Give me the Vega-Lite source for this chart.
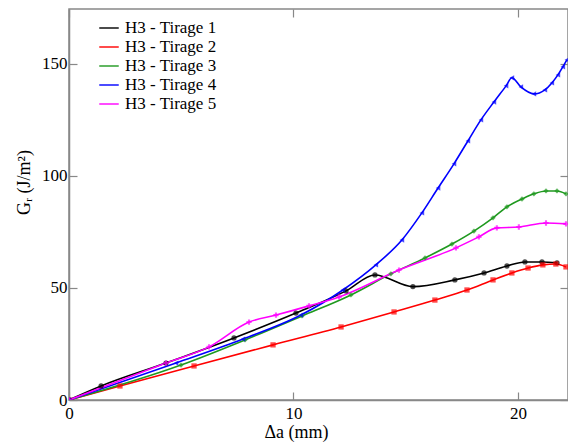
{
  "$schema": "https://vega.github.io/schema/vega-lite/v6.json",
  "width": 499,
  "height": 391,
  "autosize": "none",
  "padding": {"left": 69, "top": 9, "right": 0, "bottom": 43},
  "background": "white",
  "config": {
    "font": "Times New Roman, serif",
    "view": {"stroke": "#888888", "strokeWidth": 1.5},
    "axis": {"grid": false, "domainColor": "#888888", "domainWidth": 1.5, "tickColor": "#888888", "tickWidth": 1.2, "labelColor": "black", "labelFontSize": 17, "titleFontSize": 18, "titleFontWeight": "normal", "titleColor": "black"},
    "legend": {"labelFont": "Times New Roman, serif"}
  },
  "datasets": {
    "curves": [
      {"s": "H3 - Tirage 1", "x": 0, "y": 0},
      {"s": "H3 - Tirage 1", "x": 1.43, "y": 6.25},
      {"s": "H3 - Tirage 1", "x": 4.32, "y": 16.5},
      {"s": "H3 - Tirage 1", "x": 7.35, "y": 27.7},
      {"s": "H3 - Tirage 1", "x": 10.11, "y": 38.8},
      {"s": "H3 - Tirage 1", "x": 12.34, "y": 48.7},
      {"s": "H3 - Tirage 1", "x": 13.63, "y": 55.8},
      {"s": "H3 - Tirage 1", "x": 15.32, "y": 50.6},
      {"s": "H3 - Tirage 1", "x": 17.19, "y": 53.6},
      {"s": "H3 - Tirage 1", "x": 18.49, "y": 56.7},
      {"s": "H3 - Tirage 1", "x": 19.51, "y": 59.8},
      {"s": "H3 - Tirage 1", "x": 20.31, "y": 61.6},
      {"s": "H3 - Tirage 1", "x": 21.07, "y": 61.6},
      {"s": "H3 - Tirage 1", "x": 21.74, "y": 61.2},
      {"s": "H3 - Tirage 2", "x": 0, "y": 0},
      {"s": "H3 - Tirage 2", "x": 2.27, "y": 6.25},
      {"s": "H3 - Tirage 2", "x": 5.57, "y": 15.2},
      {"s": "H3 - Tirage 2", "x": 9.09, "y": 24.6},
      {"s": "H3 - Tirage 2", "x": 12.12, "y": 32.6},
      {"s": "H3 - Tirage 2", "x": 14.48, "y": 39.3},
      {"s": "H3 - Tirage 2", "x": 16.3, "y": 44.6},
      {"s": "H3 - Tirage 2", "x": 17.73, "y": 49.1},
      {"s": "H3 - Tirage 2", "x": 18.89, "y": 53.6},
      {"s": "H3 - Tirage 2", "x": 19.73, "y": 56.7},
      {"s": "H3 - Tirage 2", "x": 20.45, "y": 58.9},
      {"s": "H3 - Tirage 2", "x": 21.11, "y": 60.3},
      {"s": "H3 - Tirage 2", "x": 21.69, "y": 60.7},
      {"s": "H3 - Tirage 2", "x": 22.14, "y": 59.4},
      {"s": "H3 - Tirage 3", "x": 0, "y": 0},
      {"s": "H3 - Tirage 3", "x": 4.99, "y": 15.6},
      {"s": "H3 - Tirage 3", "x": 7.84, "y": 26.8},
      {"s": "H3 - Tirage 3", "x": 10.38, "y": 37.5},
      {"s": "H3 - Tirage 3", "x": 12.56, "y": 46.9},
      {"s": "H3 - Tirage 3", "x": 14.34, "y": 56.3},
      {"s": "H3 - Tirage 3", "x": 15.86, "y": 63.4},
      {"s": "H3 - Tirage 3", "x": 17.06, "y": 69.6},
      {"s": "H3 - Tirage 3", "x": 18.04, "y": 75.4},
      {"s": "H3 - Tirage 3", "x": 18.89, "y": 81.3},
      {"s": "H3 - Tirage 3", "x": 19.51, "y": 86.2},
      {"s": "H3 - Tirage 3", "x": 20.18, "y": 89.7},
      {"s": "H3 - Tirage 3", "x": 20.71, "y": 92.0},
      {"s": "H3 - Tirage 3", "x": 21.25, "y": 93.3},
      {"s": "H3 - Tirage 3", "x": 21.74, "y": 93.3},
      {"s": "H3 - Tirage 3", "x": 22.14, "y": 92.0},
      {"s": "H3 - Tirage 4", "x": 0, "y": 0},
      {"s": "H3 - Tirage 4", "x": 4.77, "y": 16.5},
      {"s": "H3 - Tirage 4", "x": 7.75, "y": 27.2},
      {"s": "H3 - Tirage 4", "x": 10.33, "y": 37.9},
      {"s": "H3 - Tirage 4", "x": 12.2, "y": 49.1},
      {"s": "H3 - Tirage 4", "x": 13.67, "y": 60.3},
      {"s": "H3 - Tirage 4", "x": 14.83, "y": 71.4},
      {"s": "H3 - Tirage 4", "x": 15.72, "y": 83.5},
      {"s": "H3 - Tirage 4", "x": 16.44, "y": 94.6},
      {"s": "H3 - Tirage 4", "x": 17.15, "y": 105.4},
      {"s": "H3 - Tirage 4", "x": 17.77, "y": 115.6},
      {"s": "H3 - Tirage 4", "x": 18.35, "y": 125.0},
      {"s": "H3 - Tirage 4", "x": 18.93, "y": 133.0},
      {"s": "H3 - Tirage 4", "x": 19.47, "y": 140.2},
      {"s": "H3 - Tirage 4", "x": 19.73, "y": 143.8},
      {"s": "H3 - Tirage 4", "x": 20.13, "y": 139.7},
      {"s": "H3 - Tirage 4", "x": 20.71, "y": 136.6},
      {"s": "H3 - Tirage 4", "x": 21.2, "y": 138.4},
      {"s": "H3 - Tirage 4", "x": 21.51, "y": 141.5},
      {"s": "H3 - Tirage 4", "x": 21.78, "y": 145.1},
      {"s": "H3 - Tirage 4", "x": 22.0, "y": 148.7},
      {"s": "H3 - Tirage 4", "x": 22.18, "y": 151.8},
      {"s": "H3 - Tirage 5", "x": 0, "y": 0},
      {"s": "H3 - Tirage 5", "x": 4.32, "y": 16.5},
      {"s": "H3 - Tirage 5", "x": 6.24, "y": 23.7},
      {"s": "H3 - Tirage 5", "x": 8.02, "y": 34.8},
      {"s": "H3 - Tirage 5", "x": 9.22, "y": 37.9},
      {"s": "H3 - Tirage 5", "x": 10.69, "y": 42.0},
      {"s": "H3 - Tirage 5", "x": 12.03, "y": 46.0},
      {"s": "H3 - Tirage 5", "x": 14.7, "y": 58.0},
      {"s": "H3 - Tirage 5", "x": 17.24, "y": 67.9},
      {"s": "H3 - Tirage 5", "x": 18.26, "y": 72.8},
      {"s": "H3 - Tirage 5", "x": 19.06, "y": 76.8},
      {"s": "H3 - Tirage 5", "x": 20.04, "y": 77.2},
      {"s": "H3 - Tirage 5", "x": 21.25, "y": 79.0},
      {"s": "H3 - Tirage 5", "x": 22.14, "y": 78.6}
    ]
  },
  "data": {"name": "curves"},
  "resolve": {"axis": {"x": "independent", "y": "independent"}},
  "layer": [
    {
      "mark": {"type": "line", "strokeWidth": 1.6, "interpolate": "monotone", "clip": true},
      "encoding": {
        "x": {"field": "x", "type": "quantitative", "scale": {"domain": [0, 22.23], "nice": false, "zero": false}, "axis": {"title": "Δa (mm)", "values": [0, 10, 20], "tickSize": -8, "labelPadding": 13, "titleX": 227, "titlePadding": 2, "labelFlush": false, "labelFont": "Times New Roman, serif", "titleFont": "Times New Roman, serif"}},
        "y": {"field": "y", "type": "quantitative", "scale": {"domain": [0, 174.5], "nice": false}, "axis": {"title": "Gᵣ  (J/m²)", "values": [0, 50, 100, 150], "tickSize": -8, "labelPadding": 10, "titleY": 173, "titlePadding": 8, "labelFlush": false, "labelFont": "Times New Roman, serif", "titleFont": "Times New Roman, serif"}},
        "color": {"field": "s", "type": "nominal", "scale": {"range": ["#000000", "#ff0000", "#1f991f", "#0000ff", "#ff00ff"]}, "legend": {"title": null, "orient": "none", "legendX": 29, "legendY": 8, "symbolType": "stroke", "symbolSize": 380, "symbolStrokeWidth": 2, "labelFontSize": 17, "labelFont": "Times New Roman, serif", "labelColor": "black", "labelOffset": 5, "rowPadding": 0, "padding": 0}}
      }
    },
    {
      "mark": {"type": "point", "filled": true, "size": 28, "clip": true},
      "encoding": {
        "x": {"field": "x", "type": "quantitative", "axis": {"orient": "top", "title": null, "labels": false, "values": [0, 10, 20], "tickSize": -8, "domain": false}},
        "y": {"field": "y", "type": "quantitative", "axis": {"orient": "right", "title": null, "labels": false, "values": [0, 50, 100, 150], "tickSize": -8, "domain": false}},
        "color": {"field": "s", "type": "nominal"},
        "shape": {"field": "s", "type": "nominal", "scale": {"range": ["circle", "square", "diamond", "triangle-left", "cross"]}, "legend": null}
      }
    }
  ]
}
